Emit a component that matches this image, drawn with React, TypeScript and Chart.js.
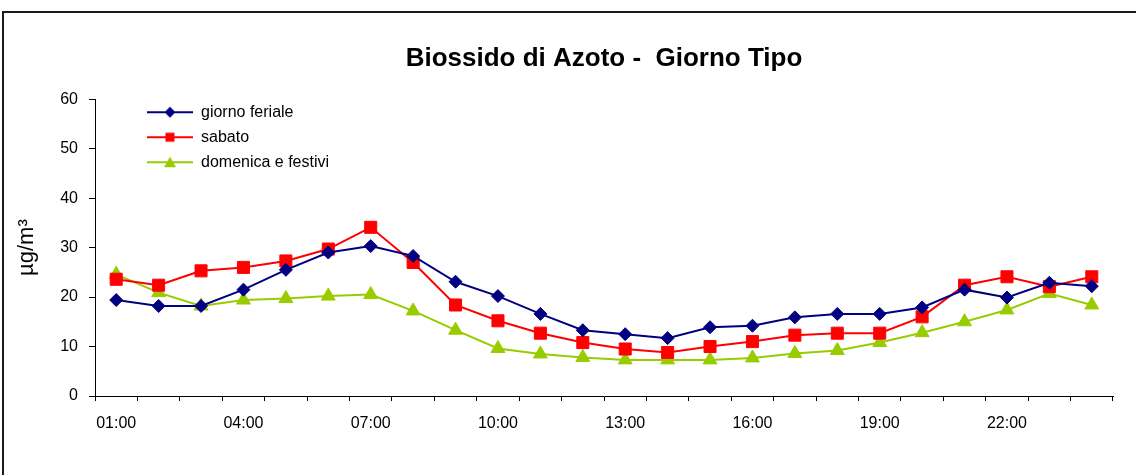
import React, { useEffect, useRef } from 'react';
import { Chart, registerables } from 'chart.js';

Chart.register(...registerables);

const HOURS = [
  '01:00', '02:00', '03:00', '04:00', '05:00', '06:00', '07:00', '08:00',
  '09:00', '10:00', '11:00', '12:00', '13:00', '14:00', '15:00', '16:00',
  '17:00', '18:00', '19:00', '20:00', '21:00', '22:00', '23:00', '24:00',
];
const FERIALE = [19.4, 18.2, 18.2, 21.5, 25.5, 29.0, 30.3, 28.3, 23.1, 20.2, 16.6, 13.3, 12.5, 11.7, 13.9, 14.2, 15.9, 16.6, 16.6, 17.9, 21.5, 19.9, 22.9, 22.2];
const SABATO = [23.6, 22.4, 25.3, 26.0, 27.3, 29.7, 34.1, 27.0, 18.4, 15.2, 12.7, 10.8, 9.5, 8.8, 10.0, 11.0, 12.3, 12.7, 12.7, 16.0, 22.4, 24.1, 22.1, 24.1];
const FESTIVI = [24.6, 20.9, 18.2, 19.4, 19.7, 20.2, 20.5, 17.2, 13.3, 9.6, 8.5, 7.8, 7.3, 7.3, 7.3, 7.7, 8.6, 9.2, 10.8, 12.8, 15.0, 17.4, 20.7, 18.4];
const SERIES_NAMES = ['giorno feriale', 'sabato', 'domenica e festivi'];
const SERIES_COLORS = ['#000080', '#FF0000', '#99CC00'];
const TITLE = 'Biossido di Azoto -  Giorno Tipo';
const Y_TITLE = 'µg/m³';
const Y_MIN = 0;
const Y_MAX = 60;
const Y_STEP = 10;
const LABEL_EVERY = 3;

const FAMILY = '"Liberation Sans", Arial, sans-serif';

function makeIcon(color: string, shape: string): HTMLCanvasElement {
  const c = document.createElement('canvas');
  c.width = 46;
  c.height = 14;
  const ctx = c.getContext('2d')!;
  ctx.strokeStyle = color;
  ctx.lineWidth = 2;
  ctx.beginPath();
  ctx.moveTo(0, 7);
  ctx.lineTo(46, 7);
  ctx.stroke();
  ctx.fillStyle = color;
  ctx.beginPath();
  if (shape === 'diamond') {
    ctx.moveTo(23, 1.5);
    ctx.lineTo(28.5, 7);
    ctx.lineTo(23, 12.5);
    ctx.lineTo(17.5, 7);
  } else if (shape === 'square') {
    ctx.rect(18.5, 2.5, 9, 9);
  } else {
    ctx.moveTo(23, 1.5);
    ctx.lineTo(29, 12);
    ctx.lineTo(17, 12);
  }
  ctx.closePath();
  ctx.fill();
  return c;
}

const legendShift = {
  id: 'legendShift',
  afterLayout(chart: any) {
    const l = chart.legend;
    if (!l) return;
    const ca = chart.chartArea;
    const w = l.width;
    const h = l.height;
    l.left = ca.left + 43;
    l.right = l.left + w;
    l.top = ca.top - 4;
    l.bottom = l.top + h;
  },
};

export default function App() {
  const ref = useRef<HTMLCanvasElement>(null);

  useEffect(() => {
    if (!ref.current) return;
    const icons = [
      makeIcon(SERIES_COLORS[0], 'diamond'),
      makeIcon(SERIES_COLORS[1], 'square'),
      makeIcon(SERIES_COLORS[2], 'triangle'),
    ];
    const mk = (i: number, data: number[], style: string, radius: number) => ({
      label: SERIES_NAMES[i],
      data,
      borderColor: SERIES_COLORS[i],
      backgroundColor: SERIES_COLORS[i],
      pointBackgroundColor: SERIES_COLORS[i],
      pointBorderColor: SERIES_COLORS[i],
      pointBorderWidth: 1,
      borderWidth: 2,
      pointStyle: style,
      pointRadius: radius,
      tension: 0,
    });
    const chart = new Chart(ref.current, {
      type: 'line',
      data: {
        labels: HOURS,
        datasets: [
          mk(0, FERIALE, 'rectRot', 6.5),
          mk(1, SABATO, 'rect', 8.5),
          mk(2, FESTIVI, 'triangle', 8),
        ],
      },
      options: {
        responsive: false,
        animation: false,
        devicePixelRatio: 1,
        layout: { padding: { left: 0, right: 23, top: 0, bottom: 0 } },
        plugins: {
          title: {
            display: true,
            text: TITLE,
            fullSize: false,
            color: '#000',
            font: { family: FAMILY, size: 26, weight: 'bold' },
            padding: { top: 43, bottom: 25 },
          },
          legend: {
            position: 'chartArea',
            align: 'start',
            labels: {
              usePointStyle: true,
              pointStyleWidth: 46,
              color: '#000',
              padding: 9,
              font: { family: FAMILY, size: 16 },
              generateLabels: (c: any) =>
                c.data.datasets.map((ds: any, i: number) => ({
                  text: ds.label,
                  pointStyle: icons[i],
                  fillStyle: SERIES_COLORS[i],
                  strokeStyle: SERIES_COLORS[i],
                  lineWidth: 0,
                  hidden: false,
                  datasetIndex: i,
                  fontColor: '#000',
                })),
            },
          },
          tooltip: { enabled: false },
        },
        scales: {
          x: {
            type: 'category',
            offset: true,
            grid: {
              display: true,
              drawOnChartArea: false,
              drawTicks: true,
              tickLength: 5,
              color: '#000',
              offset: true,
            },
            border: { display: true, color: '#000', width: 1 },
            ticks: {
              autoSkip: false,
              maxRotation: 0,
              minRotation: 0,
              color: '#000',
              padding: 13,
              font: { family: FAMILY, size: 16 },
              callback: (_v: any, i: number) => (i % LABEL_EVERY === 0 ? HOURS[i] : ''),
            },
            afterFit: (s: any) => {
              s.height = 79;
            },
          },
          y: {
            min: Y_MIN,
            max: Y_MAX,
            ticks: {
              stepSize: Y_STEP,
              color: '#000',
              padding: 11,
              font: { family: FAMILY, size: 16 },
            },
            grid: {
              display: true,
              drawOnChartArea: false,
              drawTicks: true,
              tickLength: 6,
              color: '#000',
            },
            border: { display: true, color: '#000', width: 1 },
            title: {
              display: true,
              text: Y_TITLE,
              color: '#000',
              font: { family: FAMILY, size: 22 },
              padding: { top: 14, bottom: 0 },
            },
            afterFit: (s: any) => {
              s.width = 95;
            },
          },
        },
      } as any,
      plugins: [legendShift],
    });
    return () => chart.destroy();
  }, []);

  return (
    <div
      style={{
        position: 'fixed',
        left: 0,
        top: 0,
        width: 1136,
        height: 475,
        background: '#fff',
        overflow: 'hidden',
      }}
    >
      <div
        style={{
          position: 'absolute',
          left: 2,
          top: 11,
          width: 1200,
          height: 600,
          borderLeft: '2px solid #1a1a1a',
          borderTop: '2px solid #1a1a1a',
        }}
      />
      <canvas
        ref={ref}
        width={1136}
        height={475}
        style={{ position: 'absolute', left: 0, top: 0 }}
      />
    </div>
  );
}
